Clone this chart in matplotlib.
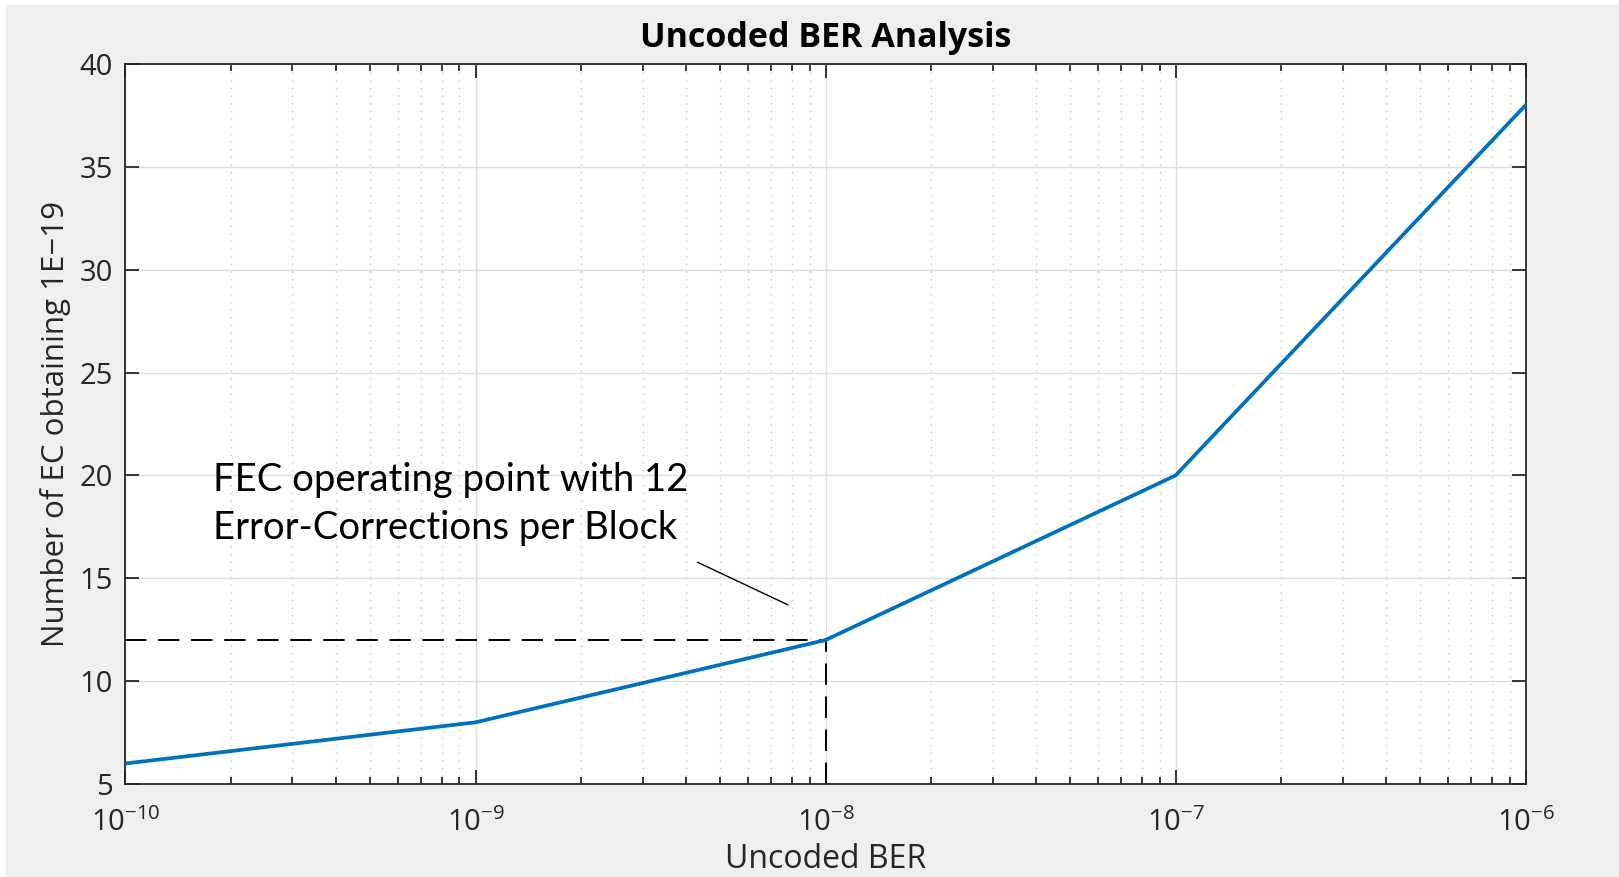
import matplotlib
matplotlib.use("Agg")
import matplotlib.pyplot as plt
from matplotlib.patches import Rectangle
from matplotlib.ticker import FixedLocator, LogLocator, NullFormatter, MultipleLocator

# ---------------------------------------------------
# Data
# ---------------------------------------------------

ber = [1e-10, 1e-9, 1e-8, 1e-7, 1e-6]
n_ec = [6, 8, 12, 20, 38]

fec_ber = 1e-8
fec_ec = 12

# ---------------------------------------------------
# Style
# ---------------------------------------------------

plt.rcParams["font.family"] = ["Open Sans", "DejaVu Sans"]
plt.rcParams["mathtext.fontset"] = "custom"
plt.rcParams["mathtext.rm"] = "Open Sans"
plt.rcParams["mathtext.it"] = "Open Sans"

text_col = "#262626"
bg_col = "#efefef"

fig = plt.figure(figsize=(16.19, 8.77), dpi=100, facecolor="white")
fig.patches.append(Rectangle((6 / 1619, 0), 1, 1 - 5 / 877,
                             transform=fig.transFigure, color=bg_col, zorder=-10))

ax = fig.add_axes([0.0775, 0.106, 0.8648, 0.821])

ax.plot(ber, n_ec, color="#0072BD", linewidth=2.7, zorder=3)

# operating point guides
ax.plot([ber[0], fec_ber], [fec_ec, fec_ec], color="black", linewidth=1.4,
        dashes=(11, 6), zorder=2)
ax.plot([fec_ber, fec_ber], [5, fec_ec], color="black", linewidth=1.4,
        dashes=(11, 6), zorder=2)

ax.set_xscale("log")
ax.set_xlim(1e-10, 1e-6)
ax.set_ylim(5, 40)
ax.yaxis.set_major_locator(MultipleLocator(5))
ax.xaxis.set_major_locator(FixedLocator(ber))
ax.xaxis.set_minor_locator(LogLocator(base=10, subs=range(2, 10), numticks=20))
ax.xaxis.set_minor_formatter(NullFormatter())

ax.grid(True, which="major", color="#dedede", linewidth=1.0)
ax.grid(True, which="minor", axis="x", color="#c4c4c4", linewidth=1.0,
        linestyle=(0, (1, 4.5)))
ax.set_axisbelow(True)

ax.tick_params(which="both", direction="in", top=True, right=True,
               colors=text_col, labelsize=21, width=1.3)
ax.tick_params(which="major", length=10)
ax.tick_params(which="minor", length=5)
ax.tick_params(axis="x", pad=17)
ax.tick_params(axis="y", pad=9)
for s in ax.spines.values():
    s.set_color(text_col)
    s.set_linewidth(1.3)

ax.set_title("Uncoded BER Analysis", fontsize=24.5, fontweight="bold",
             color="black", pad=12)
ax.set_xlabel("Uncoded BER", fontsize=23, color=text_col, labelpad=4)
ax.set_ylabel("Number of EC obtaining 1E\u221219", fontsize=22.5,
              color=text_col, labelpad=6)

# ---------------------------------------------------
# Annotation
# ---------------------------------------------------

ax.annotate("", xy=(10 ** -8.1, 13.65), xytext=(10 ** -8.373, 15.84),
            arrowprops=dict(arrowstyle="-", color="black", linewidth=1.0))
ax.text(10 ** -9.749, 16.9, "FEC operating point with 12\nError-Corrections per Block",
        fontsize=27.5, family=["Lato", "DejaVu Sans"], color="black",
        linespacing=1.42, va="baseline")

fig.savefig("out.png", dpi=100, facecolor=fig.get_facecolor())
